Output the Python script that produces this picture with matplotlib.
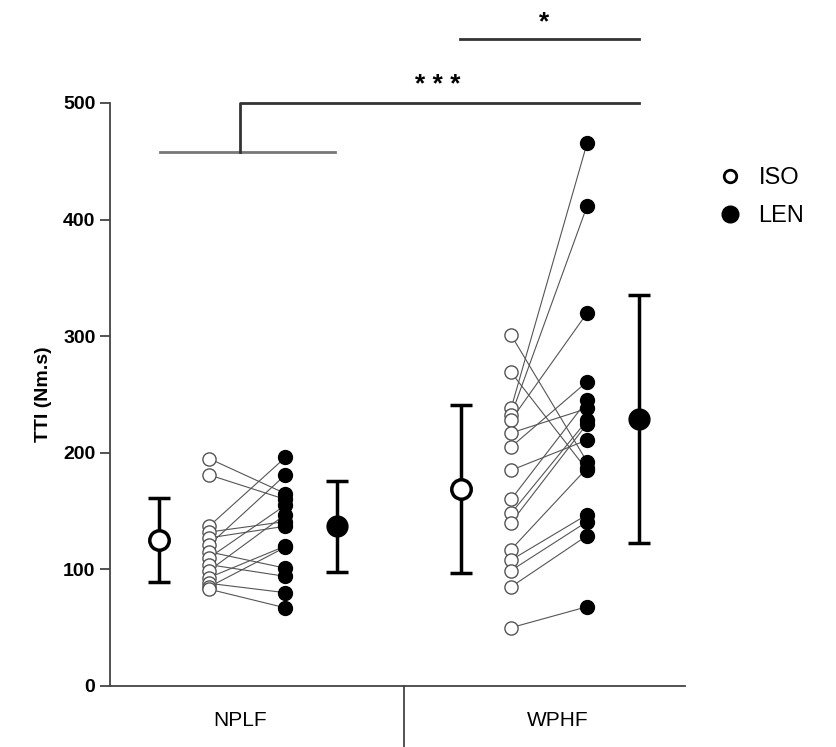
import matplotlib
matplotlib.use("Agg")
import matplotlib.pyplot as plt
import numpy as np

plt.rcParams['font.family'] = ['Liberation Sans', 'DejaVu Sans']

groups = ["NPLF", "WPHF"]

# individual values (paired ISO -> LEN)
nplf_iso = [195, 181, 137, 132, 127, 121, 115, 110, 104, 99, 93, 88, 85, 83]
nplf_len = [165, 160, 196, 141, 137, 181, 101, 155, 94, 147, 120, 80, 119, 67]
wphf_iso = [301, 269, 238, 232, 228, 217, 205, 185, 160, 148, 140, 117, 108, 99, 85, 50]
wphf_len = [192, 185, 466, 412, 320, 238, 261, 211, 245, 228, 225, 187, 147, 141, 129, 68]

# mean and SD
iso_mean = [125, 169]
iso_sd = [36, 72]
len_mean = [137, 229]
len_sd = [39, 106]

centers = [0.98, 2.03]
fig = plt.figure(figsize=(8.37, 7.47), dpi=100)
ax = fig.add_axes([0.1314, 0.0817, 0.687, 0.7805])

pairs = [(nplf_iso, nplf_len), (wphf_iso, wphf_len)]
for i, c in enumerate(centers):
    iso, ln = pairs[i]
    xi = c - 0.135
    xl = c + 0.13
    for a, b in zip(iso, ln):
        ax.plot([xi, xl], [a, b], color="#555555", lw=0.8, zorder=2)
    ax.plot([xi] * len(iso), iso, "o", ms=9.5, mfc="white", mec="#555555", mew=1.0, zorder=3)
    ax.plot([xl] * len(ln), ln, "o", ms=10, mfc="black", mec="black", zorder=3)
    ax.errorbar(c - 0.31, iso_mean[i], yerr=iso_sd[i], fmt="o", ms=14, mfc="white", mec="black",
                mew=2.5, ecolor="black", elinewidth=2.5, capsize=8, capthick=2.5, zorder=4)
    ax.errorbar(c + 0.31, len_mean[i], yerr=len_sd[i], fmt="o", ms=15, mfc="black", mec="black",
                ecolor="black", elinewidth=2.5, capsize=8, capthick=2.5, zorder=4)

ax.set_xlim(0.5, 2.5)
ax.set_ylim(0, 500)
ax.set_yticks([0, 100, 200, 300, 400, 500])
ax.set_xticks([0.952, 2.058])
ax.set_xticklabels(groups, fontsize=15)
ax.tick_params(axis="x", length=0, pad=18)
ax.tick_params(axis="y", length=7, width=1.3, labelsize=14, color="#444444")
for t in ax.get_yticklabels():
    t.set_fontweight("bold")
ax.set_ylabel("TTI (Nm.s)", fontsize=14, fontweight="bold", labelpad=8)
for s in ["top", "right"]:
    ax.spines[s].set_visible(False)
for s in ["left", "bottom"]:
    ax.spines[s].set_linewidth(1.3)
    ax.spines[s].set_color("#444444")

# group separator
ax.plot([1.523, 1.523], [0, -52], color="#444444", lw=1.3, clip_on=False)

# significance brackets
ax.plot([0.674, 1.283], [458, 458], color="#777777", lw=2, clip_on=False)
ax.plot([0.952, 0.952, 2.34], [458, 500, 500], color="#333333", lw=2, clip_on=False)
ax.text(1.64, 505, "* * *", ha="center", va="bottom", fontsize=19, fontweight="bold", clip_on=False)
ax.plot([1.716, 2.34], [555, 555], color="#333333", lw=2, clip_on=False)
ax.text(2.01, 559, "*", ha="center", va="bottom", fontsize=19, fontweight="bold", clip_on=False)

# legend
h1, = ax.plot([], [], "o", ms=9, mfc="white", mec="black", mew=2)
h2, = ax.plot([], [], "o", ms=12, mfc="black", mec="black")
fig.legend([h1, h2], ["ISO", "LEN"], loc="upper left", bbox_to_anchor=(0.83, 0.805),
           frameon=False, fontsize=17, handletextpad=0.6, labelspacing=0.7, handlelength=1.2)

fig.savefig("out.png", dpi=100)
